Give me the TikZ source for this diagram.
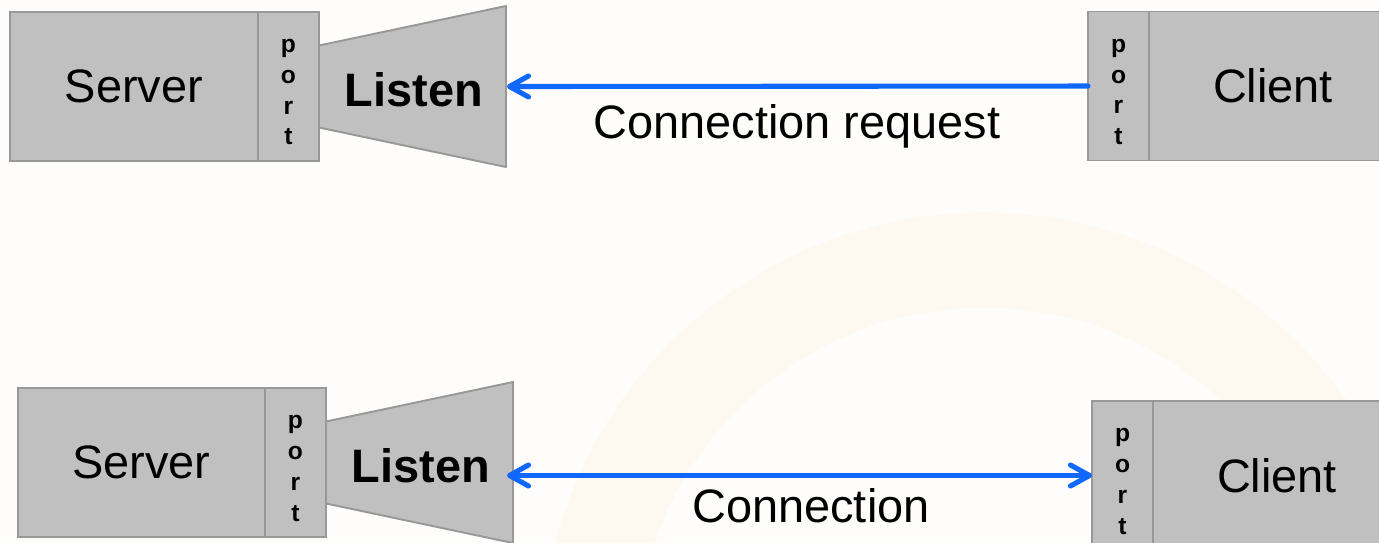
\documentclass[tikz,border=0pt]{standalone}
\usepackage{fontspec}
\setmainfont{Liberation Sans}
\usetikzlibrary{positioning,calc,arrows.meta}

\definecolor{boxfill}{RGB}{192,192,192}
\definecolor{boxline}{RGB}{152,152,152}
\definecolor{linkblue}{RGB}{16,104,255}
\definecolor{paper}{RGB}{254,253,251}
\definecolor{halo}{RGB}{254,249,240}

\begin{document}
\begin{tikzpicture}[x=0.02cm, y=-0.02cm, >={Straight Barb[length=3.8mm, width=4.2mm, round]}]
        \tikzstyle{every node} = [rectangle, inner sep=0pt, outer sep=0pt]
        \tikzstyle{box} = [draw=boxline, fill=boxfill, line width=1.1pt, minimum width=4.96cm, minimum height=2.98cm, font=\fontsize{26.7}{32}\selectfont]
        \tikzstyle{portbox} = [box, minimum width=1.22cm, align=center, text height=2.34cm, text depth=0pt, font=\fontsize{14}{17.5}\selectfont\bfseries]
        \tikzstyle{funnel} = [draw=boxline, fill=boxfill, line width=1.1pt, line join=round]
        \tikzstyle{listen} = [font=\fontsize{26.7}{32}\selectfont\bfseries]
        \tikzstyle{link} = [draw=linkblue, line width=2.9pt, line cap=round]
        \tikzstyle{msg} = [anchor=base, font=\fontsize{26.7}{32}\selectfont]

        \clip (0,0) rectangle (1379,542);
        \fill[paper] (0,0) rectangle (1379,542);
        % pale ring behind everything
        \draw[halo, line width=1.9cm] (984,656) circle [radius=7.92cm];

        % server listens, client asks
        \node[box] (srvA) at (134,86.5) {Server};
        \node[portbox, right=0pt of srvA] (portA) {p\\o\\r\\t};
        \draw[funnel] ($(portA.east)+(0,-41)$) -- ++(187,-39.5) -- ++(0,161) -- ($(portA.east)+(0,41)$) -- cycle;
        \node[listen] (lisA) at ($(portA.east)+(95,3)$) {Listen};
        \coordinate (mouthA) at ($(portA.east)+(188,0)$);
        \node[portbox] (cportA) at (1118.5,86) {p\\o\\r\\t};
        \node[box, right=0pt of cportA] (cliA) {Client};
        \draw[link, <-] (mouthA) -- (cportA);
        \node[msg] (reqA) at (797,138) {Connection request};

        % both ends connected
        \node[box, minimum width=4.94cm] (srvB) at (141.5,462.5) {Server};
        \node[portbox, right=0pt of srvB] (portB) {p\\o\\r\\t};
        \draw[funnel] ($(portB.east)+(0,-41)$) -- ++(187,-39.5) -- ++(0,161) -- ($(portB.east)+(0,41)$) -- cycle;
        \node[listen] (lisB) at ($(portB.east)+(95,3)$) {Listen};
        \coordinate (mouthB) at ($(portB.east)+(181,13)$);
        \node[portbox] (cportB) at (1122.5,475.5) {p\\o\\r\\t};
        \node[box, right=0pt of cportB] (cliB) {Client};
        \draw[link, <->] (mouthB) -- (cportB);
        \node[msg] (conB) at (811,522) {Connection};
\end{tikzpicture}
\end{document}
